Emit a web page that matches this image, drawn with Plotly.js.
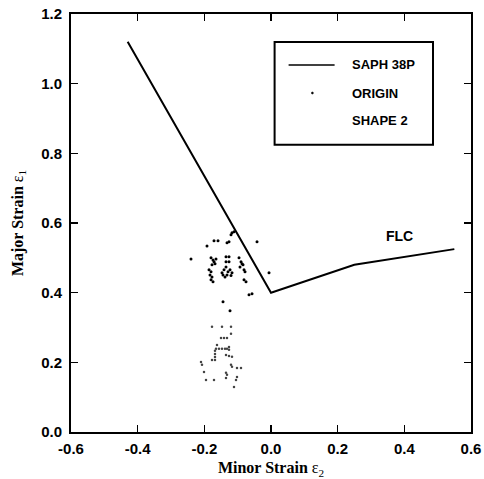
<!DOCTYPE html>
<html>
<head>
<meta charset="utf-8">
<script src="https://cdn.plot.ly/plotly-3.0.1.min.js"></script>
<style>
  html, body { margin: 0; padding: 0; background: #fff; }
  #chart { width: 484px; height: 479px; }
</style>
</head>
<body>
<div id="chart"></div>
<script>
// Forming limit curve (FLC) of SAPH 38P
const flcMinor = [-0.43, 0.0, 0.25, 0.55];
const flcMajor = [1.12, 0.40, 0.48, 0.525];

// Measured strains, ORIGIN blank
const originMinor = [-0.117, -0.111, -0.12, -0.126, -0.171, -0.159, -0.132, -0.192, -0.042, -0.24,
  -0.18, -0.174, -0.171, -0.168, -0.177, -0.165,
  -0.186, -0.18, -0.183, -0.177, -0.18, -0.174,
  -0.135, -0.126, -0.135, -0.126,
  -0.147, -0.141, -0.135, -0.129, -0.123, -0.117, -0.132, -0.138, -0.12, -0.144,
  -0.096, -0.09, -0.084, -0.093, -0.081, -0.078, -0.087,
  -0.006, -0.075, -0.081,
  -0.066, -0.057, -0.144, -0.123];
const originMajor = [0.572, 0.575, 0.566, 0.546, 0.549, 0.549, 0.543, 0.534, 0.546, 0.497,
  0.500, 0.494, 0.489, 0.483, 0.480, 0.497,
  0.466, 0.460, 0.451, 0.445, 0.437, 0.431,
  0.503, 0.503, 0.489, 0.489,
  0.457, 0.466, 0.474, 0.460, 0.466, 0.457, 0.451, 0.445, 0.449, 0.451,
  0.500, 0.489, 0.480, 0.474, 0.466, 0.460, 0.483,
  0.457, 0.431, 0.437,
  0.394, 0.397, 0.374, 0.348];

// Measured strains, SHAPE 2 blank
const shape2Minor = [-0.177, -0.147, -0.12, -0.12, -0.15, -0.141, -0.132, -0.162,
  -0.165, -0.156, -0.147, -0.138, -0.132,
  -0.168, -0.168, -0.168, -0.168,
  -0.126, -0.126, -0.135, -0.126, -0.117,
  -0.177, -0.21, -0.207, -0.12, -0.117, -0.102, -0.09,
  -0.201, -0.135, -0.132, -0.102, -0.105, -0.195, -0.171, -0.135, -0.111];
const shape2Major = [0.302, 0.302, 0.302, 0.282, 0.270, 0.270, 0.270, 0.250,
  0.239, 0.239, 0.239, 0.239, 0.239,
  0.233, 0.224, 0.215, 0.207,
  0.244, 0.236, 0.221, 0.218, 0.216,
  0.207, 0.201, 0.193, 0.193, 0.187, 0.184, 0.184,
  0.172, 0.170, 0.164, 0.158, 0.149, 0.149, 0.149, 0.155, 0.129];

const xTicks = [-0.6, -0.4, -0.2, 0.0, 0.2, 0.4, 0.6];
const yTicks = [0.0, 0.2, 0.4, 0.6, 0.8, 1.0, 1.2];
const legendLabels = ['SAPH 38P', 'ORIGIN', 'SHAPE 2'];

const sans = 'Arial, Liberation Sans, sans-serif';
const serif = 'Times New Roman, Liberation Serif, serif';
const tickFont = { family: sans, size: 15, color: '#000' };
const titleFont = { family: serif, size: 16, color: '#000' };
const labelFont = { family: sans, size: 13, color: '#000' };
const bold = s => '<b>' + s + '</b>';

const traces = [
  { x: flcMinor, y: flcMajor, mode: 'lines', name: legendLabels[0],
    line: { color: '#000', width: 2 }, showlegend: false },
  { x: originMinor, y: originMajor, mode: 'markers', name: legendLabels[1],
    marker: { color: '#000', size: 3 }, showlegend: false },
  { x: shape2Minor, y: shape2Major, mode: 'markers', name: legendLabels[2],
    marker: { color: '#444', size: 2.5 }, showlegend: false }
];

const axisCommon = {
  showgrid: false, zeroline: false,
  showline: true, linecolor: '#000', linewidth: 2, mirror: 'ticks',
  ticks: 'inside', ticklen: 7, tickwidth: 1.5, tickcolor: '#000',
  tickfont: tickFont, automargin: false
};

// Legend panel drawn in paper coordinates
const legX0 = 0.509, legX1 = 0.905, legY0 = 0.687, legY1 = 0.933;
const rowY = [0.878, 0.811, 0.746];
const textX = 0.697;

const shapes = [
  { type: 'rect', xref: 'paper', yref: 'paper', x0: legX0, x1: legX1, y0: legY0, y1: legY1,
    line: { color: '#000', width: 2 }, fillcolor: '#fff', layer: 'above' },
  { type: 'line', xref: 'paper', yref: 'paper', x0: 0.544, x1: 0.659, y0: rowY[0], y1: rowY[0],
    line: { color: '#000', width: 1.5 }, layer: 'above' },
  { type: 'circle', xref: 'paper', yref: 'paper', x0: 0.601, x1: 0.606, y0: rowY[1] - 0.0025, y1: rowY[1] + 0.0025,
    line: { color: '#000', width: 0.5 }, fillcolor: '#000', layer: 'above' }
];

const annotations = legendLabels.map((t, i) => ({
  text: bold(t), xref: 'paper', yref: 'paper', x: textX, y: rowY[i],
  xanchor: 'left', yanchor: 'middle', showarrow: false, font: labelFont
}));
annotations.push({
  text: bold('FLC'), xref: 'x', yref: 'y', x: 0.385, y: 0.563,
  xanchor: 'center', yanchor: 'middle', showarrow: false,
  font: { family: sans, size: 14, color: '#000' }
});

const layout = {
  width: 484, height: 479,
  margin: { l: 71, r: 13, t: 14, b: 47, pad: 0 },
  paper_bgcolor: '#fff', plot_bgcolor: '#fff',
  showlegend: false,
  xaxis: Object.assign({}, axisCommon, {
    range: [-0.6, 0.6], tickvals: xTicks, ticktext: xTicks.map(v => bold(v.toFixed(1))),
    ticklabelstandoff: 2,
    title: { text: bold('Minor Strain ') + 'ε<sub>2</sub>', font: titleFont, standoff: 6 }
  }),
  yaxis: Object.assign({}, axisCommon, {
    range: [0, 1.2], tickvals: yTicks, ticktext: yTicks.map(v => bold(v.toFixed(1))),
    ticklabelstandoff: 4,
    title: { text: bold('Major Strain ') + 'ε<sub>1</sub>', font: titleFont, standoff: 14 }
  }),
  shapes: shapes,
  annotations: annotations
};

Plotly.newPlot('chart', traces, layout, { displayModeBar: false, staticPlot: true });
</script>
</body>
</html>
